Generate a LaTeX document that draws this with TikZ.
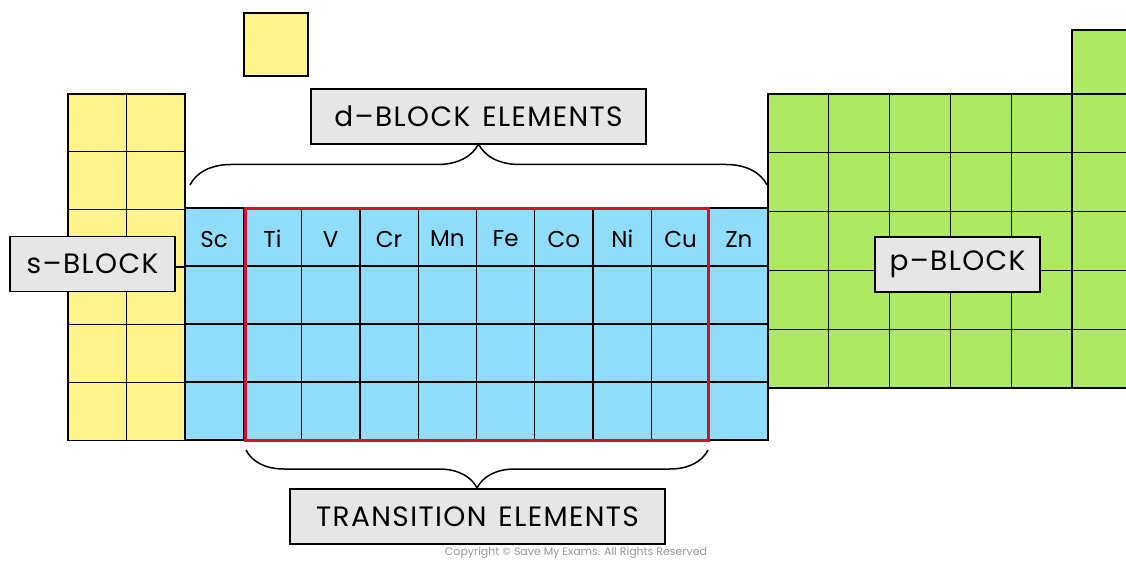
\documentclass[tikz,border=0pt]{standalone}
\usepackage{fontspec}
\setmainfont{Poppins}
\newfontfamily\lblfont[LetterSpace=5]{Poppins}
\usetikzlibrary{decorations.pathreplacing}
\definecolor{syel}{RGB}{252,243,138}
\definecolor{dblue}{RGB}{143,221,249}
\definecolor{pgreen}{RGB}{174,233,100}
\definecolor{lbl}{RGB}{230,230,230}
\definecolor{redbox}{RGB}{214,16,44}
\begin{document}
\begin{tikzpicture}[x=1pt,y=-1pt,
  cell/.style={draw=black,line width=1.3pt},
  lblbox/.style={draw=black,line width=1.5pt,fill=lbl,inner sep=0pt,minimum height=55pt,font=\lblfont\fontsize{28}{30}\selectfont},
  elem/.style={font=\fontsize{23}{25}\selectfont,inner sep=0pt},
  bracestyle/.style={draw=black,line width=1.5pt,decorate,decoration={brace,amplitude=#1}}
]
\clip (0,0) rectangle (1126,561);
\fill[white] (0,0) rectangle (1126,561);
% hydrogen
\draw[cell,fill=syel] (244,13) rectangle (308,76);
% s-block
\foreach \i in {0,1} \foreach \j in {0,...,5}
  \draw[cell,fill=syel] ({68+\i*58.5},{94+\j*57.7}) rectangle ++(58.5,57.7);
% d-block
\foreach \i in {0,...,9} \foreach \j in {0,...,3}
  \draw[cell,fill=dblue] ({185+\i*58.3},{208+\j*58}) rectangle ++(58.3,58);
% p-block
\foreach \i in {0,...,5} \foreach \j in {0,...,4}
  \draw[cell,fill=pgreen] ({768+\i*60.8},{94+\j*58.8}) rectangle ++(60.8,58.8);
\draw[cell,fill=pgreen] (1072,30) rectangle ++(60.8,64);
% element symbols
\foreach \s [count=\k from 0] in {Sc,Ti,V,Cr,Mn,Fe,Co,Ni,Cu,Zn}
  \node[elem] (el\s) at ({185+58.3*\k+29.15},239) {\s};
% transition frame
\node[draw=redbox,line width=3pt,minimum width=463pt,minimum height=231pt,inner sep=0pt,outer sep=0pt] (trans) at (476.5,324.5) {};
% labels
\node[lblbox,minimum width=165pt] (sblock) at (92.5,264) {s–BLOCK};
\node[lblbox,minimum width=165pt] (pblock) at (957.5,264.5) {p–BLOCK};
\node[lblbox,minimum width=335pt] (dblock) at (478.5,116.5) {d–BLOCK\hspace{12pt}ELEMENTS};
\node[lblbox,minimum width=375pt] (telem) at (477.5,516.5) {TRANSITION\hspace{12pt}ELEMENTS};
% braces
\coordinate (dL) at (190,185);
\coordinate (dR) at (767,185);
\draw[bracestyle=41pt] (dL) -- (dR);
\coordinate (tL) at (246,450);
\coordinate (tR) at (708,450);
\draw[bracestyle=38pt] (tR) -- (tL);
% copyright
\node[font=\fontsize{11}{12}\selectfont,text=black!40] (copy) at (576,553) {Copyright © Save My Exams. All Rights Reserved};
\end{tikzpicture}
\end{document}
